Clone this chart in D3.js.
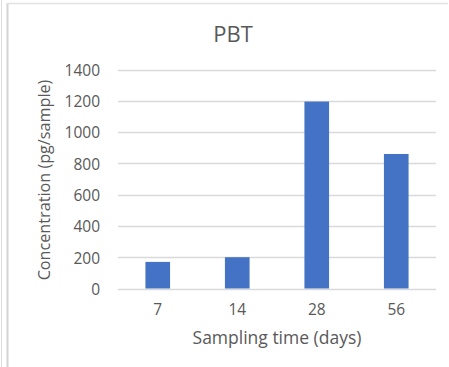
<!DOCTYPE html>
<html>
<head>
<meta charset="utf-8">
<script src="https://cdn.jsdelivr.net/npm/d3@7"></script>
<style>
  html, body { margin: 0; padding: 0; background: #fff; }
  svg { display: block; }
  text { font-family: "Open Sans", sans-serif; fill: #595959; }
</style>
</head>
<body>
<svg id="chart" width="449" height="367"></svg>
<script>
// Sampling days and PBT concentration (pg/sample)
const categories = ["7", "14", "28", "56"];
const values = [170, 200, 1195, 860];
const yTicks = [0, 200, 400, 600, 800, 1000, 1200, 1400];
const chartTitle = "PBT";
const xTitle = "Sampling time (days)";
const yTitle = "Concentration (pg/sample)";

const svg = d3.select("#chart");
const W = 449, H = 367;

// frame lines around the chart area
svg.append("line").attr("x1", 1.5).attr("x2", 1.5).attr("y1", 0).attr("y2", H)
  .attr("stroke", "#dedede").attr("stroke-width", 1);
svg.append("line").attr("x1", 7.5).attr("x2", 7.5).attr("y1", 3).attr("y2", H)
  .attr("stroke", "#d4d4d4").attr("stroke-width", 2);
svg.append("line").attr("x1", 7).attr("x2", 448).attr("y1", 3.5).attr("y2", 3.5)
  .attr("stroke", "#e3e3e3").attr("stroke-width", 1.5);

const plot = { left: 118, right: 436, top: 69.5, bottom: 288.5 };

const x = d3.scaleBand()
  .domain(categories)
  .range([plot.left, plot.right])
  .paddingInner(0.69)
  .paddingOuter(0.345);

const y = d3.scaleLinear()
  .domain([0, 1400])
  .range([plot.bottom, plot.top]);

// horizontal gridlines
svg.append("g")
  .selectAll("line")
  .data(yTicks)
  .join("line")
  .attr("x1", plot.left)
  .attr("x2", plot.right)
  .attr("y1", d => Math.round(y(d)) + 0.5)
  .attr("y2", d => Math.round(y(d)) + 0.5)
  .attr("stroke", "#d9d9d9")
  .attr("stroke-width", 1.3);

// y tick labels
svg.append("g")
  .selectAll("text")
  .data(yTicks)
  .join("text")
  .attr("x", 100)
  .attr("y", d => y(d) + 1)
  .attr("dy", "0.35em")
  .attr("text-anchor", "end")
  .attr("font-size", 15.5)
  .text(d => d);

// bars
svg.append("g")
  .selectAll("rect")
  .data(values)
  .join("rect")
  .attr("x", (d, i) => x(categories[i]))
  .attr("width", x.bandwidth())
  .attr("y", d => y(d))
  .attr("height", d => y(0) - y(d))
  .attr("fill", "#4472c4");

// x tick labels
svg.append("g")
  .selectAll("text")
  .data(categories)
  .join("text")
  .attr("x", d => x(d) + x.bandwidth() / 2)
  .attr("y", 310)
  .attr("dy", "0.35em")
  .attr("text-anchor", "middle")
  .attr("font-size", 15.5)
  .text(d => d);

// axis titles
svg.append("text")
  .attr("x", 277)
  .attr("y", 344)
  .attr("text-anchor", "middle")
  .attr("font-size", 17.5)
  .text(xTitle);

svg.append("text")
  .attr("transform", "translate(44,180) rotate(-90)")
  .attr("dy", "0.35em")
  .attr("text-anchor", "middle")
  .attr("font-size", 16.2)
  .text(yTitle);

// chart title
svg.append("text")
  .attr("x", 233)
  .attr("y", 34)
  .attr("dy", "0.35em")
  .attr("text-anchor", "middle")
  .attr("font-size", 22)
  .text(chartTitle);
</script>
</body>
</html>
